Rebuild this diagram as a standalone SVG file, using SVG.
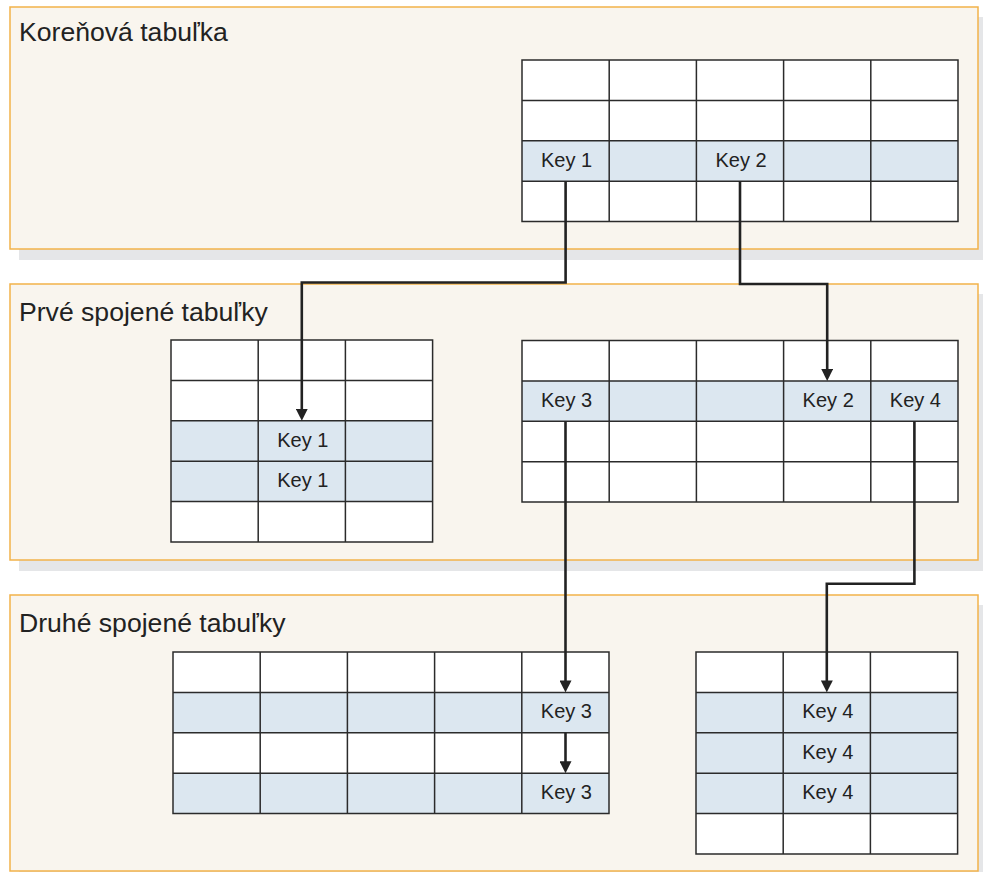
<svg xmlns="http://www.w3.org/2000/svg" width="983" height="872" viewBox="0 0 983 872">
<style>
.shadow{fill:#e5e6e8}
.panel{fill:#f9f5ee;stroke:#f2b24a;stroke-width:1.5}
.title{font-family:"Liberation Sans",Arial,sans-serif;font-size:26.6px;fill:#222}
.cellbg{fill:#ffffff}
.hl{fill:#dce7f0}
.grid{fill:none;stroke:#2b2b2b;stroke-width:1.5}
.key{font-family:"Liberation Sans",Arial,sans-serif;font-size:20px;fill:#222;text-anchor:middle}
.conn{fill:none;stroke:#222;stroke-width:2.6;marker-end:url(#arrow)}
</style>
<defs>
<marker id="arrow" markerUnits="userSpaceOnUse" markerWidth="12" markerHeight="12" viewBox="0 0 12 12" refX="6" refY="6" orient="auto">
<path d="M0,0 L12,6 L0,12 z" fill="#222"/>
</marker>
</defs>
<rect width="983" height="872" fill="#ffffff"/>

<g id="panel-root">
<rect class="shadow" x="19" y="17" width="968" height="243"/>
<rect class="panel" x="10" y="7" width="968" height="242"/>
<text class="title" x="19" y="41">Koreňová tabuľka</text>
</g>
<g id="panel-first">
<rect class="shadow" x="19" y="294" width="968" height="277"/>
<rect class="panel" x="10" y="284" width="968" height="276"/>
<text class="title" x="19" y="321">Prvé spojené tabuľky</text>
</g>
<g id="panel-second">
<rect class="shadow" x="19" y="605" width="968" height="277"/>
<rect class="panel" x="10" y="595" width="968" height="276"/>
<text class="title" x="19" y="632">Druhé spojené tabuľky</text>
</g>

<g id="table-root">
<rect class="cellbg" x="522" y="60" width="436" height="161.6"/>
<rect class="hl" x="522" y="140.8" width="436" height="40.4"/>
<path class="grid" d="M522,60H958V221.6H522Z M522,100.4H958 M522,140.8H958 M522,181.2H958 M609.2,60V221.6 M696.4,60V221.6 M783.6,60V221.6 M870.8,60V221.6"/>
<text class="key" x="566.6" y="166.8">Key 1</text>
<text class="key" x="741" y="166.8">Key 2</text>
</g>

<g id="table-first-left">
<rect class="cellbg" x="171" y="340" width="261.6" height="202"/>
<rect class="hl" x="171" y="420.8" width="261.6" height="80.8"/>
<path class="grid" d="M171,340H432.6V542H171Z M171,380.4H432.6 M171,420.8H432.6 M171,461.2H432.6 M171,501.6H432.6 M258.2,340V542 M345.4,340V542"/>
<text class="key" x="302.8" y="446.8">Key 1</text>
<text class="key" x="302.8" y="487.2">Key 1</text>
</g>

<g id="table-first-right">
<rect class="cellbg" x="522" y="340.5" width="436" height="161.6"/>
<rect class="hl" x="522" y="380.9" width="436" height="40.4"/>
<path class="grid" d="M522,340.5H958V502.1H522Z M522,380.9H958 M522,421.3H958 M522,461.7H958 M609.2,340.5V502.1 M696.4,340.5V502.1 M783.6,340.5V502.1 M870.8,340.5V502.1"/>
<text class="key" x="566.6" y="406.9">Key 3</text>
<text class="key" x="828.2" y="406.9">Key 2</text>
<text class="key" x="915.4" y="406.9">Key 4</text>
</g>

<g id="table-second-left">
<rect class="cellbg" x="173" y="652" width="436" height="161.6"/>
<rect class="hl" x="173" y="692.4" width="436" height="40.4"/>
<rect class="hl" x="173" y="773.2" width="436" height="40.4"/>
<path class="grid" d="M173,652H609V813.6H173Z M173,692.4H609 M173,732.8H609 M173,773.2H609 M260.2,652V813.6 M347.4,652V813.6 M434.6,652V813.6 M521.8,652V813.6"/>
<text class="key" x="566.4" y="718.4">Key 3</text>
<text class="key" x="566.4" y="799.2">Key 3</text>
</g>

<g id="table-second-right">
<rect class="cellbg" x="696" y="652" width="261.6" height="202"/>
<rect class="hl" x="696" y="692.4" width="261.6" height="121.2"/>
<path class="grid" d="M696,652H957.6V854H696Z M696,692.4H957.6 M696,732.8H957.6 M696,773.2H957.6 M696,813.6H957.6 M783.2,652V854 M870.4,652V854"/>
<text class="key" x="827.8" y="718.4">Key 4</text>
<text class="key" x="827.8" y="758.8">Key 4</text>
<text class="key" x="827.8" y="799.2">Key 4</text>
</g>

<g id="connectors">
<path class="conn" d="M565.6,181.2V282.5H301.8V414.8"/>
<path class="conn" d="M740,181.2V284H827.2V374.9"/>
<path class="conn" d="M565.5,421.3V686.4"/>
<path class="conn" d="M565.5,732.8V767.2"/>
<path class="conn" d="M914.4,421.3V583.7H826.8V686.4"/>
</g>
</svg>
